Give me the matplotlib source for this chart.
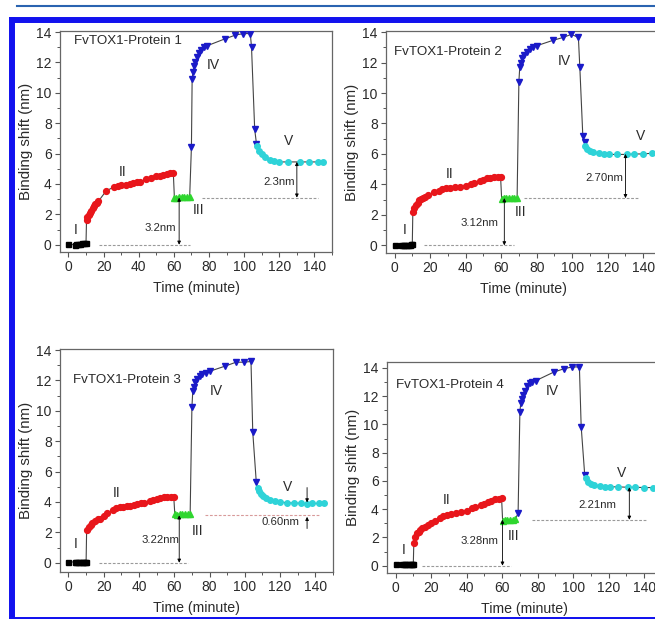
import matplotlib
matplotlib.use("Agg")
import matplotlib.pyplot as plt
from matplotlib.lines import Line2D
import numpy as np

plt.rcParams['font.family'] = ['Liberation Sans', 'DejaVu Sans']

# ---- data (time in minute, binding shift in nm) ----
# panel 1
t1_I = [0, 3.5, 4.5, 5.5, 6.5, 8, 9, 10]
b1_I = [0.02, 0.0, 0.02, 0.03, 0.05, 0.08, 0.1, 0.1]
t1_II = [10.3, 10.8, 11.5, 12.2, 13, 13.8, 14.6, 15.4, 16.2, 17, 21.5, 26, 28, 30, 32.5, 35, 37, 39, 41, 44, 47, 50, 52, 54, 56, 58, 59.7]
b1_II = [1.65, 1.8, 1.95, 2.1, 2.25, 2.4, 2.55, 2.65, 2.75, 2.85, 3.55, 3.8, 3.85, 3.9, 3.95, 4.0, 4.05, 4.1, 4.15, 4.3, 4.4, 4.5, 4.55, 4.6, 4.65, 4.7, 4.7]
t1_III = [60.3, 61.5, 63, 64.5, 66, 67.5, 69]
b1_III = [3.1, 3.1, 3.12, 3.15, 3.15, 3.15, 3.15]
t1_IV = [70, 70.4, 70.9, 71.5, 72.3, 73.2, 74.3, 75.5, 77, 79, 89, 95, 99.5, 103.5, 104.2, 106, 107]
b1_IV = [6.45, 10.9, 11.4, 11.75, 12.05, 12.35, 12.6, 12.85, 13.0, 13.1, 13.55, 13.8, 13.9, 13.9, 13.0, 7.6, 6.65]
t1_V = [107.5, 108.5, 110, 112, 114.5, 117, 120, 125, 132, 137, 142, 145]
b1_V = [6.5, 6.2, 5.95, 5.75, 5.6, 5.5, 5.45, 5.45, 5.45, 5.45, 5.45, 5.45]

# panel 2
t2_I = [0, 3.5, 4.5, 5.5, 6.5, 7.5, 8.5, 9.5, 10]
b2_I = [0.05, 0.0, 0.02, 0.03, 0.03, 0.05, 0.05, 0.06, 0.06]
t2_II = [10.3, 11, 12, 13, 14, 15, 16, 17, 19, 22, 25, 27, 29, 31, 34, 37, 40, 43, 45, 48, 50, 52, 54, 56, 58, 59.7]
b2_II = [2.2, 2.45, 2.65, 2.8, 2.95, 3.05, 3.1, 3.2, 3.3, 3.5, 3.6, 3.7, 3.75, 3.75, 3.8, 3.85, 3.9, 4.0, 4.1, 4.2, 4.3, 4.4, 4.45, 4.5, 4.5, 4.5]
t2_III = [60.3, 61.5, 63, 64.5, 66, 67.5, 69]
b2_III = [3.05, 3.1, 3.1, 3.1, 3.1, 3.1, 3.1]
t2_IV = [70, 70.5, 71, 72, 73, 74.5, 76, 78, 80, 89, 95, 99.5, 103.5, 104.3, 106, 107]
b2_IV = [10.75, 11.7, 12.0, 12.3, 12.5, 12.7, 12.9, 13.0, 13.1, 13.45, 13.65, 13.85, 13.65, 11.7, 7.15, 6.8]
t2_V = [107.5, 108.5, 110, 112, 115, 118, 121, 125, 131, 135, 140, 145]
b2_V = [6.55, 6.35, 6.2, 6.1, 6.05, 6.0, 5.97, 5.97, 5.97, 6.0, 6.0, 6.05]

# panel 3
t3_I = [0, 3.5, 4.5, 5.5, 6.5, 7.5, 8.5, 9.5, 10]
b3_I = [0.05, 0.05, 0.08, 0.08, 0.08, 0.05, 0.05, 0.05, 0.05]
t3_II = [10.3, 11.5, 12.5, 13.5, 15, 16.5, 18, 20, 22, 25, 27, 29, 31, 33, 35, 37, 39, 41, 43, 46, 48, 50, 52, 54, 56, 58, 59.7]
b3_II = [2.13, 2.35, 2.5, 2.6, 2.75, 2.85, 2.9, 3.1, 3.25, 3.45, 3.6, 3.65, 3.7, 3.72, 3.75, 3.8, 3.85, 3.9, 3.95, 4.05, 4.1, 4.2, 4.25, 4.3, 4.3, 4.35, 4.35]
t3_III = [60.3, 61.5, 63, 64.5, 66, 67.5, 69]
b3_III = [3.2, 3.15, 3.2, 3.2, 3.2, 3.2, 3.2]
t3_IV = [70, 70.5, 71, 72, 73, 74.5, 76, 78, 80, 89, 95, 99.5, 103.5, 104.5, 106.5]
b3_IV = [10.25, 11.3, 11.6, 11.9, 12.1, 12.3, 12.4, 12.5, 12.6, 12.95, 13.2, 13.2, 13.25, 8.6, 5.3]
t3_V = [107.2, 108, 109, 110.5, 112, 114, 117, 120, 124, 128, 132, 135, 138, 142, 145]
b3_V = [4.9, 4.7, 4.55, 4.4, 4.25, 4.15, 4.05, 4.0, 3.95, 3.92, 3.92, 3.88, 3.9, 3.9, 3.92]

# panel 4
t4_I = [0, 3.5, 4.5, 5.5, 6.5, 7.5, 8.5, 9.5, 10]
b4_I = [0.12, 0.1, 0.1, 0.1, 0.1, 0.1, 0.1, 0.1, 0.1]
t4_II = [10.3, 11, 12, 13, 14, 15, 16.5, 18, 20, 22, 25, 27, 29, 31, 34, 37, 40, 43, 45, 48, 50, 52, 54, 56, 58, 59.7]
b4_II = [1.6, 2.05, 2.3, 2.4, 2.55, 2.65, 2.75, 2.85, 3.0, 3.15, 3.4, 3.55, 3.6, 3.65, 3.75, 3.8, 3.9, 4.05, 4.15, 4.3, 4.4, 4.5, 4.6, 4.7, 4.75, 4.78]
t4_III = [60.3, 61.5, 63, 64.5, 66, 67.5]
b4_III = [3.15, 3.25, 3.25, 3.25, 3.25, 3.3]
t4_IV = [69, 70, 70.5, 71.2, 72, 73, 74, 75.5, 77, 79, 89, 95, 99.5, 103.5, 104.5, 106.5]
b4_IV = [3.72, 10.9, 11.5, 11.8, 12.1, 12.4, 12.7, 12.9, 13.0, 13.1, 13.7, 13.95, 14.07, 14.07, 9.85, 6.42]
t4_V = [107.3, 108.5, 110, 112, 115, 118, 121, 125, 131, 135, 140, 145]
b4_V = [6.2, 5.95, 5.8, 5.7, 5.62, 5.6, 5.58, 5.58, 5.55, 5.55, 5.53, 5.53]

titles = ['FvTOX1-Protein 1', 'FvTOX1-Protein 2', 'FvTOX1-Protein 3', 'FvTOX1-Protein 4']
level_III = [3.1, 3.1, 3.12, 3.25]   # phase III baseline
level_V = [5.45, 6.0, 3.92, 5.55]    # phase V plateau
gap1_labels = ['3.2nm', '3.12nm', '3.22nm', '3.28nm']
gap2_labels = ['2.3nm', '2.70nm', '0.60nm', '2.21nm']
phases = ['I', 'II', 'III', 'IV', 'V']

# ---- layout (pixel boxes in the 655x619 picture) ----
W, H = 655, 619
def px_rect(l, t, r, b):
    return [l / W, 1 - b / H, (r - l) / W, (b - t) / H]

boxes = [(60, 31, 332, 252), (386, 31, 661, 253), (60, 349, 333, 572), (387, 362, 662, 573)]
ylims = [(-0.48, 14.07), (-0.5, 14.07), (-0.61, 14.07), (-0.52, 14.42)]

# label positions (data coords): title, I, II, III, IV, V, gap1 text, gap2 text
pos = [
    dict(title=(3, 13.4), I=(4.3, 1.0), II=(30.6, 4.8), III=(74, 2.3), IV=(82.5, 11.8), V=(125, 6.8),
         g1=(52.3, 1.1), g2=(119.7, 4.15), a1=63, a2=130, d1=(17.6, 69), d2=(76, 142)),
    dict(title=(-0.5, 12.7), I=(5.6, 1.0), II=(31, 4.7), III=(71, 2.2), IV=(95.5, 12.1), V=(138.5, 7.2),
         g1=(47.7, 1.5), g2=(118, 4.4), a1=61.8, a2=130, d1=(16.8, 67), d2=(73, 137.5)),
    dict(title=(2.4, 12.0), I=(4.3, 1.25), II=(27.5, 4.6), III=(73, 2.1), IV=(84, 11.3), V=(124, 5.0),
         g1=(52, 1.47), g2=(120.4, 2.67), a1=62.8, a2=135.3, d1=(17.3, 67.5), d2=(77.7, 142.7)),
    dict(title=(0, 12.8), I=(4.7, 1.13), II=(28.6, 4.66), III=(66.5, 2.07), IV=(88, 12.4), V=(127, 6.54),
         g1=(47, 1.72), g2=(113.7, 4.3), a1=60.2, a2=131.6, d1=(15, 65), d2=(77, 141)),
]

series = [
    [(t1_I, b1_I), (t1_II, b1_II), (t1_III, b1_III), (t1_IV, b1_IV), (t1_V, b1_V)],
    [(t2_I, b2_I), (t2_II, b2_II), (t2_III, b2_III), (t2_IV, b2_IV), (t2_V, b2_V)],
    [(t3_I, b3_I), (t3_II, b3_II), (t3_III, b3_III), (t3_IV, b3_IV), (t3_V, b3_V)],
    [(t4_I, b4_I), (t4_II, b4_II), (t4_III, b4_III), (t4_IV, b4_IV), (t4_V, b4_V)],
]

styles = [
    dict(marker='s', color='black', ms=3.6),
    dict(marker='o', color='#e8161b', ms=4.2),
    dict(marker='^', color='#2fd62f', ms=4.6),
    dict(marker='v', color='#1a1ac8', ms=4.8),
    dict(marker='o', color='#2ed3d8', ms=4.0),
]

txt = '#2a2a2a'
fig = plt.figure(figsize=(W / 100, H / 100), dpi=100)

for k in range(4):
    ax = fig.add_axes(px_rect(*boxes[k]))
    p = pos[k]
    # connecting line through all phases
    tt = np.concatenate([s[0] for s in series[k]])
    bb = np.concatenate([s[1] for s in series[k]])
    ax.plot(tt, bb, color='#444444', lw=0.8, zorder=2)
    for (t, b), st in zip(series[k], styles):
        ax.plot(t, b, ls='none', marker=st['marker'], ms=st['ms'], color=st['color'],
                mec=st['color'], zorder=3)

    # dashed reference lines
    ax.plot(p['d1'], [0, 0], color='#9a9a9a', lw=0.8, ls=(0, (2.5, 1.5)), zorder=1)
    dcol = '#d89a9a' if k == 2 else '#9a9a9a'
    ax.plot(p['d2'], [level_III[k]] * 2, color=dcol, lw=0.8, ls=(0, (2.5, 1.5)), zorder=1)

    # arrows
    aprops = dict(arrowstyle='<|-|>', color='black', lw=0.6, mutation_scale=5, shrinkA=0, shrinkB=0)
    ax.annotate('', xy=(p['a1'], 0), xytext=(p['a1'], level_III[k]), arrowprops=aprops)
    if k == 2:
        sprops = dict(arrowstyle='-|>', color='black', lw=0.6, mutation_scale=5, shrinkA=0, shrinkB=0)
        ax.annotate('', xy=(p['a2'], level_V[k] + 0.05), xytext=(p['a2'], 4.95), arrowprops=sprops)
        ax.annotate('', xy=(p['a2'], level_III[k] - 0.1), xytext=(p['a2'], 2.25), arrowprops=sprops)
    else:
        ax.annotate('', xy=(p['a2'], level_III[k]), xytext=(p['a2'], level_V[k]), arrowprops=aprops)

    ax.text(*p['g1'], gap1_labels[k], fontsize=8.2, color=txt, ha='center', va='center')
    ax.text(*p['g2'], gap2_labels[k], fontsize=8.2, color=txt, ha='center', va='center')
    ax.text(*p['title'], titles[k], fontsize=9.6, color=txt, ha='left', va='center')
    for ph in phases:
        ax.text(*p[ph], ph, fontsize=10, color=txt, ha='center', va='center')

    ax.set_xlim(-4.8, 150)
    ax.set_ylim(*ylims[k])
    ax.set_xticks(np.arange(0, 141, 20))
    ax.set_xticks(np.arange(10, 151, 20), minor=True)
    ax.set_yticks(np.arange(0, 15, 2))
    ax.set_yticks(np.arange(1, 15, 2), minor=True)
    ax.tick_params(which='major', direction='out', length=3.5, width=0.8, color='#555555',
                   labelsize=10, labelcolor=txt, pad=2.5)
    ax.tick_params(which='minor', direction='out', length=2, width=0.7, color='#555555')
    for sp in ax.spines.values():
        sp.set_color('#666666')
        sp.set_linewidth(0.9)
    ax.set_xlabel('Time (minute)', fontsize=10.2, color=txt, labelpad=5)
    ax.set_ylabel('Binding shift (nm)', fontsize=10.8, color=txt, labelpad=2)

# frame around the figure
blue = '#1212ee'
fig.add_artist(Line2D([12 / W, 12 / W], [-0.01, 1 - 20 / H], color=blue, lw=4.3,
                      transform=fig.transFigure, solid_capstyle='projecting'))
fig.add_artist(Line2D([12 / W, 1.02], [1 - 20 / H, 1 - 20 / H], color=blue, lw=4.3,
                      transform=fig.transFigure, solid_capstyle='projecting'))
fig.add_artist(Line2D([12 / W, 1.02], [1 - 619.5 / H, 1 - 619.5 / H], color=blue, lw=4.3,
                      transform=fig.transFigure))
fig.add_artist(Line2D([17 / W, 1.0], [1 - 6 / H, 1 - 6 / H], color='#2a63b0', lw=1.5,
                      transform=fig.transFigure))

fig.savefig('out.png', dpi=100)
